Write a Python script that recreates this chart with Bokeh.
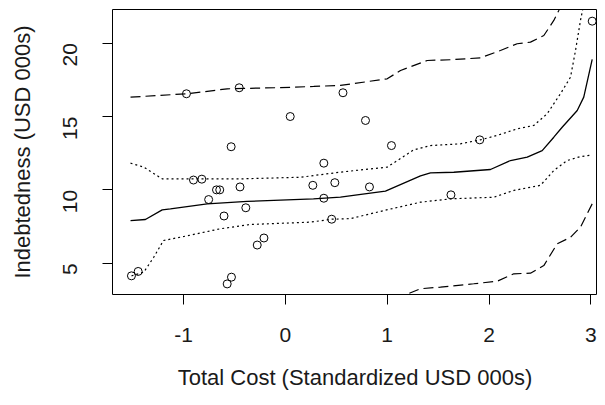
from bokeh.plotting import figure
from bokeh.models import Range1d, FixedTicker
from bokeh.embed import file_html
from bokeh.resources import INLINE
import math

# observed points
obs_x = [-1.511, -1.445, -0.902, -0.820, -0.676, -0.644, -0.753, -0.445, -0.602, -0.388,
         -0.276, -0.210, -0.529, -0.571, -0.532, 0.378, 0.270, 0.486, 0.378, 0.455,
         -0.971, -0.453, 0.048, 0.566, 3.013, 0.787, 1.042, 1.909, 0.826, 1.626]
obs_y = [4.14, 4.44, 10.67, 10.73, 10.00, 10.00, 9.34, 10.20, 8.22, 8.78,
         6.24, 6.72, 4.05, 3.59, 12.94, 11.82, 10.31, 10.49, 9.43, 8.00,
         16.55, 16.96, 15.00, 16.62, 21.50, 14.73, 13.02, 13.41, 10.20, 9.66]

# median curve
med_x = [-1.520, -1.374, -1.209, -1.128, -0.767, -0.375, -0.048, 0.276, 0.541, 0.705,
         0.983, 1.327, 1.425, 1.654, 2.014, 2.211, 2.375, 2.522, 2.636, 2.718,
         2.866, 2.930, 3.013]
med_y = [7.91, 7.98, 8.64, 8.71, 9.05, 9.21, 9.30, 9.39, 9.50, 9.66,
         9.91, 10.95, 11.16, 11.20, 11.39, 12.00, 12.23, 12.68, 13.59, 14.27,
         15.41, 16.32, 18.89]

# inner band (dotted)
in_up_x = [-1.520, -1.390, -1.209, -0.440, 0.149, 0.541, 1.000, 1.131, 1.261, 1.425,
           1.719, 1.915, 2.080, 2.276, 2.439, 2.571, 2.701, 2.800, 2.849, 2.898, 2.937]
in_up_y = [11.82, 11.55, 10.75, 10.75, 10.86, 11.21, 11.55, 12.14, 12.73, 13.02,
           13.14, 13.41, 13.71, 14.16, 14.39, 15.19, 16.55, 17.68, 19.50, 21.55, 22.90]
in_lo_x = [-1.510, -1.390, -1.292, -1.196, -0.997, -0.637, -0.342, 0.247, 0.453, 0.640,
           0.967, 1.327, 1.624, 2.047, 2.243, 2.505, 2.636, 2.767, 2.898, 3.013]
in_lo_y = [4.14, 4.39, 5.41, 6.55, 6.82, 7.35, 7.64, 7.80, 8.00, 8.04,
           8.59, 9.16, 9.39, 9.50, 9.96, 10.31, 11.32, 12.00, 12.27, 12.38]

# outer band (dashed)
out_up_x = [-1.520, -1.226, -0.971, -0.833, -0.571, -0.048, 0.279, 0.541, 1.000, 1.131,
            1.393, 1.622, 1.916, 2.112, 2.276, 2.407, 2.538, 2.636, 2.685, 2.710]
out_up_y = [16.32, 16.44, 16.55, 16.66, 16.89, 16.97, 17.05, 17.12, 17.57, 18.14,
            18.82, 18.87, 19.00, 19.50, 19.96, 20.07, 20.52, 21.55, 22.23, 22.90]
out_lo_x = [1.081, 1.180, 1.327, 1.523, 1.850, 2.080, 2.243, 2.407, 2.538, 2.669,
            2.800, 2.898, 3.013]
out_lo_y = [2.57, 2.85, 3.26, 3.37, 3.60, 3.77, 4.28, 4.32, 4.84, 6.32,
            6.77, 7.46, 9.05]

x_ticks = [-1, 0, 1, 2, 3]
x_tick_labels = {-1: "-1", 0: "0", 1: "1", 2: "2", 3: "3"}
y_ticks = [5, 10, 15, 20]
x_title = "Total Cost (Standardized USD 000s)"
y_title = "Indebtedness (USD 000s)"

FONT = "Liberation Sans"
TXT = "#1a1a1a"

p = figure(width=597, height=397, output_backend="svg", toolbar_location=None,
           x_range=Range1d(-1.697, 3.065), y_range=Range1d(2.868, 22.295),
           min_border_left=112, min_border_right=0, min_border_top=9, min_border_bottom=103)
p.background_fill_color = "white"
p.border_fill_color = "white"
p.outline_line_color = "black"
p.outline_line_width = 1
p.xgrid.visible = False
p.ygrid.visible = False

for ax in (p.xaxis[0], p.yaxis[0]):
    ax.axis_line_color = None
    ax.major_tick_line_color = "black"
    ax.major_tick_out = 10
    ax.major_tick_in = 0
    ax.minor_tick_line_color = None
    ax.major_label_text_font = FONT
    ax.major_label_text_font_size = "21px"
    ax.major_label_text_color = TXT
    ax.axis_label_text_font = FONT
    ax.axis_label_text_font_size = "22px"
    ax.axis_label_text_font_style = "normal"
    ax.axis_label_text_color = TXT

p.xaxis.ticker = FixedTicker(ticks=x_ticks)
p.xaxis.major_label_overrides = x_tick_labels
p.yaxis.ticker = FixedTicker(ticks=y_ticks)
p.yaxis.major_label_orientation = math.pi / 2
p.xaxis.major_label_standoff = 23
p.yaxis.major_label_standoff = 32
p.xaxis.axis_label = x_title
p.yaxis.axis_label = y_title
p.xaxis.axis_label_standoff = 20
p.yaxis.axis_label_standoff = 19

p.line(out_up_x, out_up_y, line_color="black", line_width=1.2, line_dash="10 5")
p.line(out_lo_x, out_lo_y, line_color="black", line_width=1.2, line_dash="10 5")
p.line(in_up_x, in_up_y, line_color="black", line_width=1.2, line_dash="2 3")
p.line(in_lo_x, in_lo_y, line_color="black", line_width=1.2, line_dash="2 3")
p.line(med_x, med_y, line_color="black", line_width=1.3)
p.scatter(obs_x, obs_y, marker="circle", size=8, fill_color=None,
          line_color="black", line_width=1)

open("out.html", "w").write(file_html(p, INLINE))
